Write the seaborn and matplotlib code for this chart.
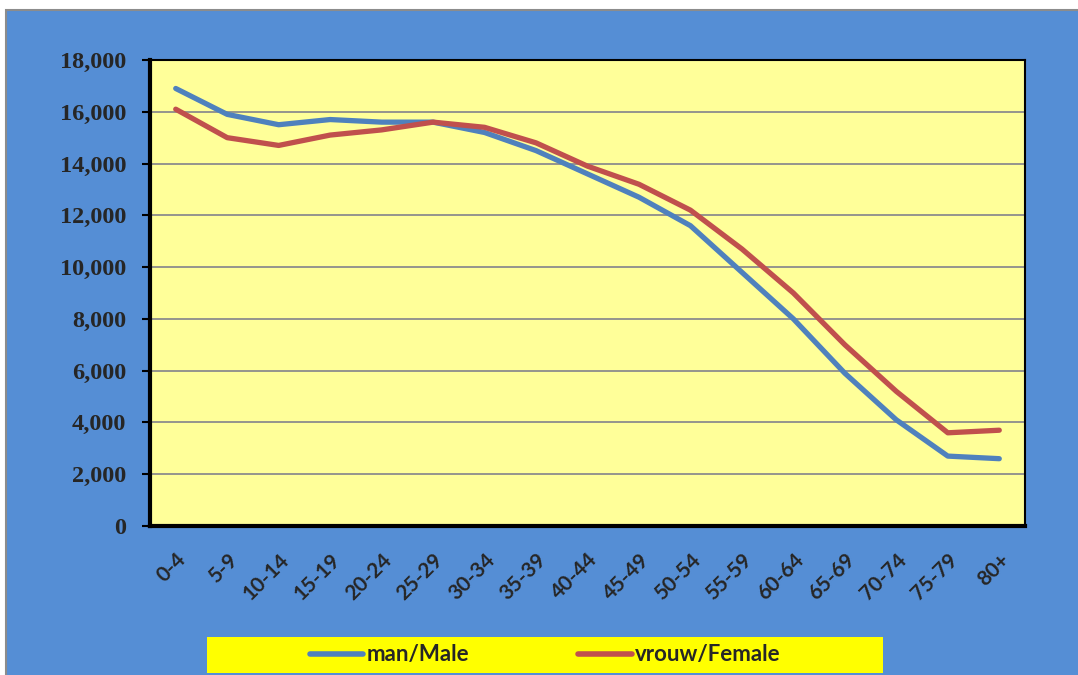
import pandas as pd
import numpy as np
import matplotlib.pyplot as plt
import seaborn as sns
from matplotlib.patches import Rectangle
from matplotlib.ticker import FuncFormatter

# age groups and population counts
age_groups = ["0-4", "5-9", "10-14", "15-19", "20-24", "25-29", "30-34", "35-39",
              "40-44", "45-49", "50-54", "55-59", "60-64", "65-69", "70-74", "75-79", "80+"]
male = [16900, 15900, 15500, 15700, 15600, 15600, 15200, 14500,
        13600, 12700, 11600, 9800, 8000, 5900, 4100, 2700, 2600]
female = [16100, 15000, 14700, 15100, 15300, 15600, 15400, 14800,
          13900, 13200, 12200, 10700, 9000, 7000, 5200, 3600, 3700]
series_names = ["man/Male", "vrouw/Female"]
colors = ["#4F81BD", "#C0504D"]

df = pd.DataFrame({
    "pos": list(range(len(age_groups))) * 2,
    "value": male + female,
    "series": [series_names[0]] * len(male) + [series_names[1]] * len(female),
})

sns.set_style("white")

W, H = 1078, 675
fig = plt.figure(figsize=(W / 100, H / 100), dpi=100)
fig.patch.set_facecolor("white")

# blue chart background with gray edge
fig.add_artist(Rectangle((6 / W, -0.01), 1.02, 1 - 10 / H + 0.01, transform=fig.transFigure,
                         facecolor="#558ED5", edgecolor="#8C8C8C", linewidth=1.5, zorder=0))
# yellow legend box
fig.add_artist(Rectangle((207 / W, 1 - 673 / H), (883 - 207) / W, 36 / H,
                         transform=fig.transFigure, facecolor="#FFFF00",
                         edgecolor="none", zorder=1))

ax = fig.add_axes([150 / W, 1 - 526 / H, 875 / W, 466 / H])
ax.set_facecolor("#FFFF99")

sns.lineplot(data=df, x="pos", y="value", hue="series", palette=colors,
             linewidth=3.8, ax=ax, legend=True, zorder=3)
for ln in ax.get_lines():
    ln.set_solid_capstyle("round")
    ln.set_solid_joinstyle("round")

ax.set_xlim(-0.5, len(age_groups) - 0.5)
ax.set_ylim(0, 18000)
ax.set_yticks(np.arange(0, 18001, 2000))
ax.yaxis.set_major_formatter(FuncFormatter(lambda v, p: f"{int(v):,}"))
ax.grid(axis="y", color="#8C8C8C", linewidth=1.3)
ax.set_axisbelow(True)

# category boundaries as ticks, labels at the centres
ax.set_xticks(np.arange(-0.5, len(age_groups), 1.0))
ax.set_xticklabels([])
ax.set_xticks(np.arange(len(age_groups)), minor=True)
ax.set_xticklabels(age_groups, minor=True, rotation=45, ha="right",
                   rotation_mode="anchor", fontsize=15, fontweight="bold",
                   family="Lato")
ax.tick_params(axis="x", which="major", direction="in", length=6, width=2.5, color="black")
ax.tick_params(axis="x", which="minor", length=0, pad=17)
ax.tick_params(axis="y", direction="out", length=6, width=1.5, color="black", pad=11,
               left=True)
for lab in ax.get_yticklabels():
    lab.set_fontfamily("Liberation Serif")
    lab.set_fontweight("bold")
    lab.set_fontsize(17.5)

ax.set_xlabel("")
ax.set_ylabel("")

for side in ["left", "bottom"]:
    ax.spines[side].set_linewidth(3)
    ax.spines[side].set_color("black")
for side in ["top", "right"]:
    ax.spines[side].set_linewidth(1.5)
    ax.spines[side].set_color("black")

handles, labels = ax.get_legend_handles_labels()
ax.get_legend().remove()
leg = fig.legend(handles, labels, loc="center left",
                 bbox_to_anchor=(290 / W, 1 - 655 / H), ncol=2, frameon=False,
                 handlelength=2.4, handletextpad=0.15, columnspacing=4.9,
                 prop={"family": "Lato", "weight": "bold", "size": 16})
leg.set_zorder(5)
for lh in leg.get_lines():
    lh.set_linewidth(4)
    lh.set_solid_capstyle("round")

fig.savefig("out.png", dpi=100, facecolor=fig.get_facecolor())
